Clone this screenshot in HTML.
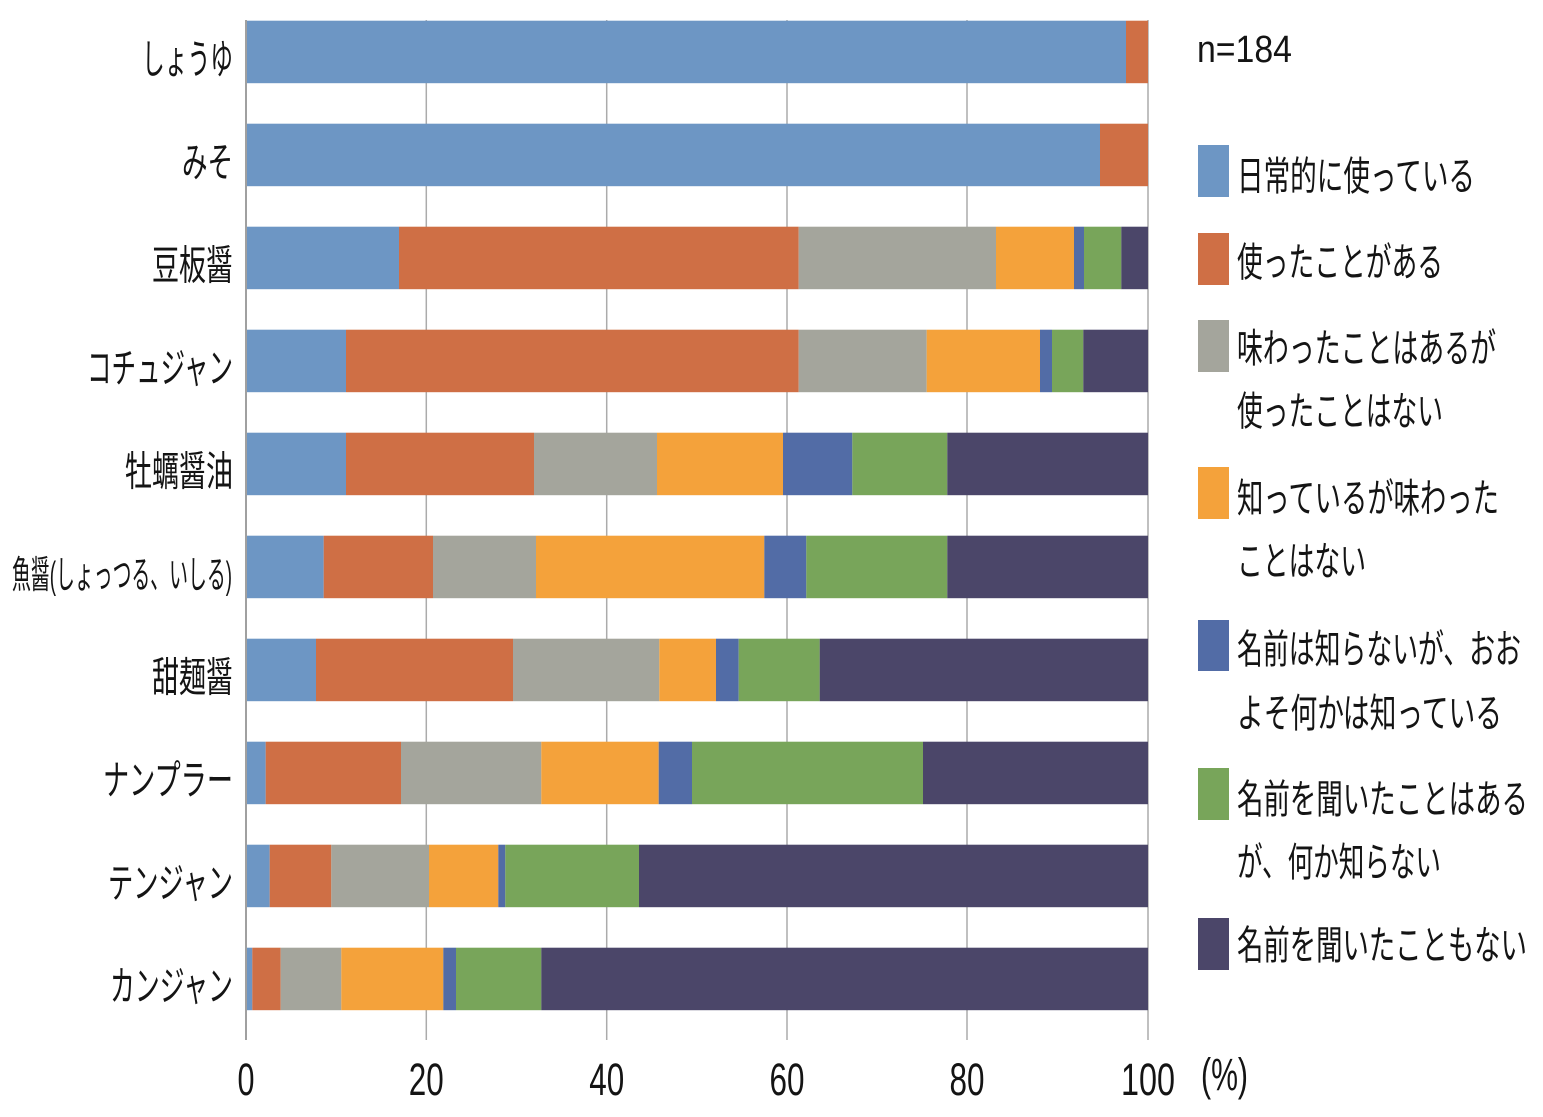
<!DOCTYPE html>
<html>
<head>
<meta charset="utf-8">
<style>
html,body{margin:0;padding:0;background:#ffffff;}
svg{display:block;}
.jp{font-family:"Liberation Sans","Noto Sans CJK JP",sans-serif;fill:#141414;}
.num{font-family:"Liberation Sans",sans-serif;fill:#141414;}
</style>
</head>
<body>
<svg width="1543" height="1117" viewBox="0 0 1543 1117" xmlns="http://www.w3.org/2000/svg">
<rect x="0" y="0" width="1543" height="1117" fill="#ffffff"/>

<!-- gridlines -->
<g stroke="#ababab" stroke-width="1.5">
<line x1="426.3" y1="20" x2="426.3" y2="1040"/>
<line x1="606.7" y1="20" x2="606.7" y2="1040"/>
<line x1="787" y1="20" x2="787" y2="1040"/>
<line x1="967" y1="20" x2="967" y2="1040"/>
<line x1="1148" y1="20" x2="1148" y2="1040"/>
</g>

<!-- bars -->
<g>
<rect x="246" y="20.7" width="880" height="62.5" fill="#6d96c4"/>
<rect x="1126" y="20.7" width="22" height="62.5" fill="#cf6f45"/>

<rect x="246" y="123.7" width="854" height="62.5" fill="#6d96c4"/>
<rect x="1100" y="123.7" width="48" height="62.5" fill="#cf6f45"/>

<rect x="246" y="226.7" width="153" height="62.5" fill="#6d96c4"/>
<rect x="399" y="226.7" width="399.7" height="62.5" fill="#cf6f45"/>
<rect x="798.7" y="226.7" width="197.3" height="62.5" fill="#a4a59c"/>
<rect x="996" y="226.7" width="78" height="62.5" fill="#f4a23b"/>
<rect x="1074" y="226.7" width="10" height="62.5" fill="#526ca6"/>
<rect x="1084" y="226.7" width="37.3" height="62.5" fill="#78a55a"/>
<rect x="1121.3" y="226.7" width="26.7" height="62.5" fill="#4b4669"/>

<rect x="246" y="329.7" width="100" height="62.5" fill="#6d96c4"/>
<rect x="346" y="329.7" width="452.7" height="62.5" fill="#cf6f45"/>
<rect x="798.7" y="329.7" width="128" height="62.5" fill="#a4a59c"/>
<rect x="926.7" y="329.7" width="113.3" height="62.5" fill="#f4a23b"/>
<rect x="1040" y="329.7" width="12" height="62.5" fill="#526ca6"/>
<rect x="1052" y="329.7" width="31.3" height="62.5" fill="#78a55a"/>
<rect x="1083.3" y="329.7" width="64.7" height="62.5" fill="#4b4669"/>

<rect x="246" y="432.7" width="100" height="62.5" fill="#6d96c4"/>
<rect x="346" y="432.7" width="188" height="62.5" fill="#cf6f45"/>
<rect x="534" y="432.7" width="123" height="62.5" fill="#a4a59c"/>
<rect x="657" y="432.7" width="126" height="62.5" fill="#f4a23b"/>
<rect x="783" y="432.7" width="69.3" height="62.5" fill="#526ca6"/>
<rect x="852.3" y="432.7" width="95" height="62.5" fill="#78a55a"/>
<rect x="947.3" y="432.7" width="200.7" height="62.5" fill="#4b4669"/>

<rect x="246" y="535.7" width="77.7" height="62.5" fill="#6d96c4"/>
<rect x="323.7" y="535.7" width="109.3" height="62.5" fill="#cf6f45"/>
<rect x="433" y="535.7" width="103" height="62.5" fill="#a4a59c"/>
<rect x="536" y="535.7" width="228.3" height="62.5" fill="#f4a23b"/>
<rect x="764.3" y="535.7" width="42" height="62.5" fill="#526ca6"/>
<rect x="806.3" y="535.7" width="141" height="62.5" fill="#78a55a"/>
<rect x="947.3" y="535.7" width="200.7" height="62.5" fill="#4b4669"/>

<rect x="246" y="638.7" width="70" height="62.5" fill="#6d96c4"/>
<rect x="316" y="638.7" width="197" height="62.5" fill="#cf6f45"/>
<rect x="513" y="638.7" width="146.3" height="62.5" fill="#a4a59c"/>
<rect x="659.3" y="638.7" width="56.7" height="62.5" fill="#f4a23b"/>
<rect x="716" y="638.7" width="22.7" height="62.5" fill="#526ca6"/>
<rect x="738.7" y="638.7" width="81" height="62.5" fill="#78a55a"/>
<rect x="819.7" y="638.7" width="328.3" height="62.5" fill="#4b4669"/>

<rect x="246" y="741.7" width="19.7" height="62.5" fill="#6d96c4"/>
<rect x="265.7" y="741.7" width="135.3" height="62.5" fill="#cf6f45"/>
<rect x="401" y="741.7" width="140.3" height="62.5" fill="#a4a59c"/>
<rect x="541.3" y="741.7" width="117.4" height="62.5" fill="#f4a23b"/>
<rect x="658.7" y="741.7" width="33.3" height="62.5" fill="#526ca6"/>
<rect x="692" y="741.7" width="231" height="62.5" fill="#78a55a"/>
<rect x="923" y="741.7" width="225" height="62.5" fill="#4b4669"/>

<rect x="246" y="844.7" width="23.7" height="62.5" fill="#6d96c4"/>
<rect x="269.7" y="844.7" width="61.6" height="62.5" fill="#cf6f45"/>
<rect x="331.3" y="844.7" width="97.7" height="62.5" fill="#a4a59c"/>
<rect x="429" y="844.7" width="69.3" height="62.5" fill="#f4a23b"/>
<rect x="498.3" y="844.7" width="7" height="62.5" fill="#526ca6"/>
<rect x="505.3" y="844.7" width="133.7" height="62.5" fill="#78a55a"/>
<rect x="639" y="844.7" width="509" height="62.5" fill="#4b4669"/>

<rect x="246" y="947.7" width="6.3" height="62.5" fill="#6d96c4"/>
<rect x="252.3" y="947.7" width="28.4" height="62.5" fill="#cf6f45"/>
<rect x="280.7" y="947.7" width="60.6" height="62.5" fill="#a4a59c"/>
<rect x="341.3" y="947.7" width="102" height="62.5" fill="#f4a23b"/>
<rect x="443.3" y="947.7" width="12.7" height="62.5" fill="#526ca6"/>
<rect x="456" y="947.7" width="85.3" height="62.5" fill="#78a55a"/>
<rect x="541.3" y="947.7" width="606.7" height="62.5" fill="#4b4669"/>
</g>

<!-- y axis line -->
<line x1="246" y1="20" x2="246" y2="1040" stroke="#a0a0a0" stroke-width="2"/>

<!-- category labels -->
<g class="jp" font-size="41">
<text x="142" y="73.5" textLength="91" lengthAdjust="spacingAndGlyphs">しょうゆ</text>
<text x="182" y="176.5" textLength="51" lengthAdjust="spacingAndGlyphs">みそ</text>
<text x="152" y="279.5" textLength="81" lengthAdjust="spacingAndGlyphs">豆板醤</text>
<text x="87" y="382.5" textLength="146" lengthAdjust="spacingAndGlyphs">コチュジャン</text>
<text x="125" y="485.5" textLength="108" lengthAdjust="spacingAndGlyphs">牡蠣醤油</text>
<text x="12" y="588" textLength="220" lengthAdjust="spacingAndGlyphs" font-size="38">魚醤(しょっつる、いしる)</text>
<text x="152" y="691.5" textLength="81" lengthAdjust="spacingAndGlyphs">甜麺醤</text>
<text x="103" y="794.5" textLength="130" lengthAdjust="spacingAndGlyphs">ナンプラー</text>
<text x="108" y="897.5" textLength="125" lengthAdjust="spacingAndGlyphs">テンジャン</text>
<text x="110" y="1000.5" textLength="123" lengthAdjust="spacingAndGlyphs">カンジャン</text>
</g>

<!-- x tick labels -->
<g class="num" font-size="45">
<text x="237.5" y="1095" textLength="17" lengthAdjust="spacingAndGlyphs">0</text>
<text x="408.8" y="1095" textLength="35" lengthAdjust="spacingAndGlyphs">20</text>
<text x="589.2" y="1095" textLength="35" lengthAdjust="spacingAndGlyphs">40</text>
<text x="769.5" y="1095" textLength="35" lengthAdjust="spacingAndGlyphs">60</text>
<text x="949.5" y="1095" textLength="35" lengthAdjust="spacingAndGlyphs">80</text>
<text x="1121" y="1095" textLength="54" lengthAdjust="spacingAndGlyphs">100</text>
<text x="1201" y="1090" textLength="47" lengthAdjust="spacingAndGlyphs">(%)</text>
</g>

<!-- n=184 -->
<text class="num" x="1197" y="62" font-size="38" textLength="95" lengthAdjust="spacingAndGlyphs">n=184</text>

<!-- legend swatches -->
<rect x="1198" y="145" width="31" height="52" fill="#6d96c4"/>
<rect x="1198" y="233" width="31" height="52" fill="#cf6f45"/>
<rect x="1198" y="320" width="31" height="52" fill="#a4a59c"/>
<rect x="1198" y="467" width="31" height="52" fill="#f4a23b"/>
<rect x="1198" y="620" width="31" height="51" fill="#526ca6"/>
<rect x="1198" y="768" width="31" height="52" fill="#78a55a"/>
<rect x="1198" y="918" width="31" height="52" fill="#4b4669"/>

<!-- legend text -->
<g class="jp" font-size="40">
<text x="1237" y="190" textLength="238" lengthAdjust="spacingAndGlyphs">日常的に使っている</text>
<text x="1237" y="276" textLength="206" lengthAdjust="spacingAndGlyphs">使ったことがある</text>
<text x="1237" y="362" textLength="259" lengthAdjust="spacingAndGlyphs">味わったことはあるが</text>
<text x="1237" y="425" textLength="206" lengthAdjust="spacingAndGlyphs">使ったことはない</text>
<text x="1237" y="512" textLength="262" lengthAdjust="spacingAndGlyphs">知っているが味わった</text>
<text x="1237" y="575" textLength="129" lengthAdjust="spacingAndGlyphs">ことはない</text>
<text x="1237" y="663" textLength="284" lengthAdjust="spacingAndGlyphs">名前は知らないが、おお</text>
<text x="1237" y="727" textLength="265" lengthAdjust="spacingAndGlyphs">よそ何かは知っている</text>
<text x="1237" y="813" textLength="291" lengthAdjust="spacingAndGlyphs">名前を聞いたことはある</text>
<text x="1237" y="876" textLength="204" lengthAdjust="spacingAndGlyphs">が、何か知らない</text>
<text x="1237" y="959" textLength="290" lengthAdjust="spacingAndGlyphs">名前を聞いたこともない</text>
</g>
</svg>
</body>
</html>
